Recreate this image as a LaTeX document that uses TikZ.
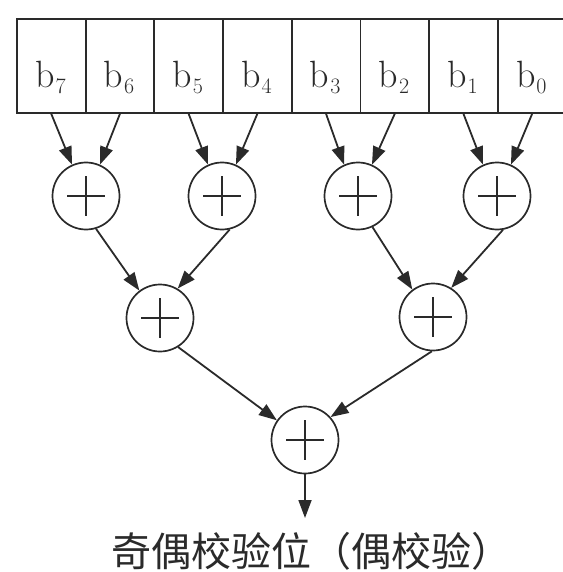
\documentclass[tikz,border=0pt]{standalone}
\usepackage{fontspec}
\newfontfamily\cjk{Noto Sans CJK SC}
\usetikzlibrary{arrows.meta}
\definecolor{ink}{HTML}{2A2A2A}
\newcommand{\bitlabel}[1]{b\kern1pt\raisebox{-6pt}{\fontsize{22}{22}\selectfont #1}}
\begin{document}
\begin{tikzpicture}[x=1pt,y=-1pt,
  cellbox/.style={draw=ink, line width=1.8pt, minimum height=94pt, minimum width=68.7pt,
    inner sep=0pt, anchor=north west},
  bitname/.style={anchor=base, inner sep=0pt, text=ink, font=\fontsize{38}{38}\selectfont},
  xorgate/.style={circle, draw=ink, line width=1.7pt, minimum size=67pt, inner sep=0pt,
    path picture={
      \draw[ink, line width=1.2pt] (path picture bounding box.center) ++(-19,0) -- ++(38,0);
      \draw[ink, line width=1.2pt] (path picture bounding box.center) ++(0,-20) -- ++(0,40);
    }},
  arr/.style={draw=ink, line width=1.8pt, -{Triangle[length=18pt, width=13pt]}},
]
\useasboundingbox (0,0) rectangle (562,572);

% register cells b7 ... b0
\foreach \k/\i in {7/0,6/1,5/2,4/3,3/4,2/5,1/6,0/7}{
  \node[cellbox] (r\k) at ({16+68.7*\i},18) {};
  \node[bitname] (l\k) at ({16+68.7*\i+34.35},88) {\bitlabel{\k}};
}

% XOR tree
\node[xorgate] (g1) at (86,196) {};
\node[xorgate] (g2) at (222,196) {};
\node[xorgate] (g3) at (358,196) {};
\node[xorgate] (g4) at (497,196) {};
\node[xorgate] (h1) at (160,318) {};
\node[xorgate] (h2) at (433,317) {};
\node[xorgate] (f)  at (305,440) {};

% first level inputs
\draw[arr] (r7.south) -- (g1.114);
\draw[arr] (r6.south) -- (g1.66);
\draw[arr] (r5.south) -- (g2.114);
\draw[arr] (r4.south) -- (g2.66);
\draw[arr] (r3.south) -- (g3.114);
\draw[arr] (r2.south) -- (g3.66);
\draw[arr] (r1.south) -- (g4.114);
\draw[arr] (r0.south) -- (g4.66);

% second level
\draw[arr] (g1.-73) -- (h1.127);
\draw[arr] (g2.-77) -- (h1.59);
\draw[arr] (g3.-65) -- (h2.127);
\draw[arr] (g4.-80) -- (h2.58);

% final stage
\draw[arr] (h1.-58) -- (f.145);
\draw[arr] (h2.-92) -- (f.42);

% parity output
\node[anchor=base, inner sep=0pt, text=ink, font=\cjk\fontsize{40}{40}\selectfont] (par) at (311,566) {奇偶校验位（偶校验）};
\coordinate (outtip) at (305,518);
\draw[arr] (f.south) -- (outtip);
\end{tikzpicture}
\end{document}
